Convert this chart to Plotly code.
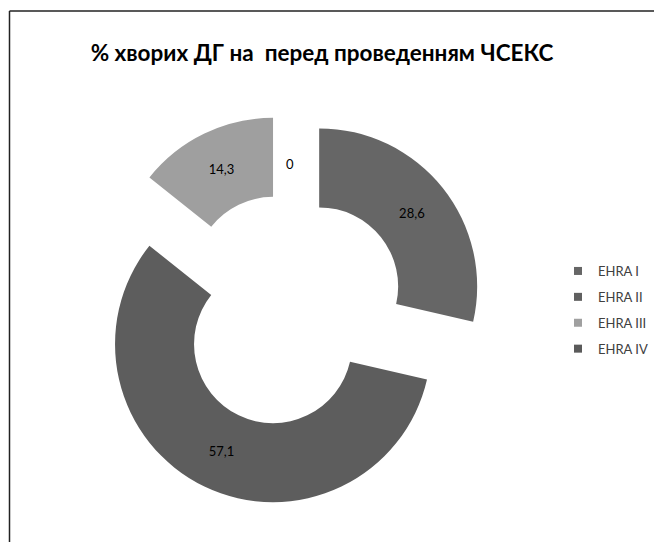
import math
import plotly.graph_objects as go

# Data (clockwise from 12 o'clock, as drawn)
slice_labels = ["EHRA I", "EHRA II", "EHRA IV", "EHRA III"]
slice_values = [0, 28.6, 57.1, 14.3]
slice_text = ["0", "28,6", "57,1", "14,3"]
slice_colors = ["#666666", "#666666", "#5d5d5d", "#9f9f9f"]

# Legend order as in the reference
legend_labels = ["EHRA I", "EHRA II", "EHRA III", "EHRA IV"]
legend_colors = ["#666666", "#606060", "#a0a0a0", "#5a5a5a"]

title_text = "% хворих ДГ на  перед проведенням ЧСЕКС"

W, H = 654, 542
cx, cy, R, pull, hole = 289.5, 310, 158, 0.24, 0.5
half = R * (1 + pull)

fig = go.Figure()
fig.add_trace(go.Pie(
    labels=slice_labels, values=slice_values, text=slice_text,
    textinfo="text", sort=False, direction="clockwise", rotation=0,
    hole=hole, pull=[pull] * 4,
    marker=dict(colors=slice_colors, line=dict(width=0)),
    textposition="inside", insidetextorientation="horizontal",
    insidetextfont=dict(family="Lato", size=13, color="#000000"),
    showlegend=False, hoverinfo="label+value",
    domain=dict(x=[(cx - half) / W, (cx + half) / W],
                y=[1 - (cy + half) / H, 1 - (cy - half) / H]),
))

# Labels of zero-width slices (plotly cannot draw text inside them)
total = sum(slice_values)
annotations = []
cum = 0.0
for v, t in zip(slice_values, slice_text):
    if v == 0:
        ang = math.radians((cum + v / 2) / total * 360)
        rr = R * (1 + hole) / 2 + pull * R
        px = cx + rr * math.sin(ang)
        py = cy - rr * math.cos(ang)
        annotations.append(dict(x=px / W, y=1 - py / H, xref="paper", yref="paper",
                                text=t, showarrow=False,
                                font=dict(family="Lato", size=13, color="#000000")))
    cum += v

for i, (lab, col) in enumerate(zip(legend_labels, legend_colors)):
    fig.add_trace(go.Scatter(
        x=[None], y=[None], mode="markers", name=lab, legendgroup=f"g{i}",
        marker=dict(symbol="square", size=8, color=col),
    ))

fig.update_layout(
    width=W, height=H,
    margin=dict(l=0, r=0, t=0, b=0),
    paper_bgcolor="white", plot_bgcolor="white",
    xaxis=dict(visible=False), yaxis=dict(visible=False),
    title=dict(text=title_text, x=322 / W, xanchor="center", y=1 - 53 / H, yanchor="middle",
               font=dict(family="Lato", size=22.5, color="#000000", weight="bold")),
    legend=dict(x=558 / W, xanchor="left", y=1 - 256 / H, yanchor="top",
                font=dict(family="Lato", size=13, color="#404040"),
                tracegroupgap=6, itemwidth=30, bgcolor="rgba(0,0,0,0)"),
    annotations=annotations,
    shapes=[
        dict(type="line", xref="paper", yref="paper", x0=9.5 / W, x1=1, y0=1 - 11 / H, y1=1 - 11 / H,
             line=dict(color="#222222", width=1.5)),
        dict(type="line", xref="paper", yref="paper", x0=9.5 / W, x1=9.5 / W, y0=0, y1=1 - 11 / H,
             line=dict(color="#222222", width=1.5)),
    ],
)

fig.write_html("out.html")
